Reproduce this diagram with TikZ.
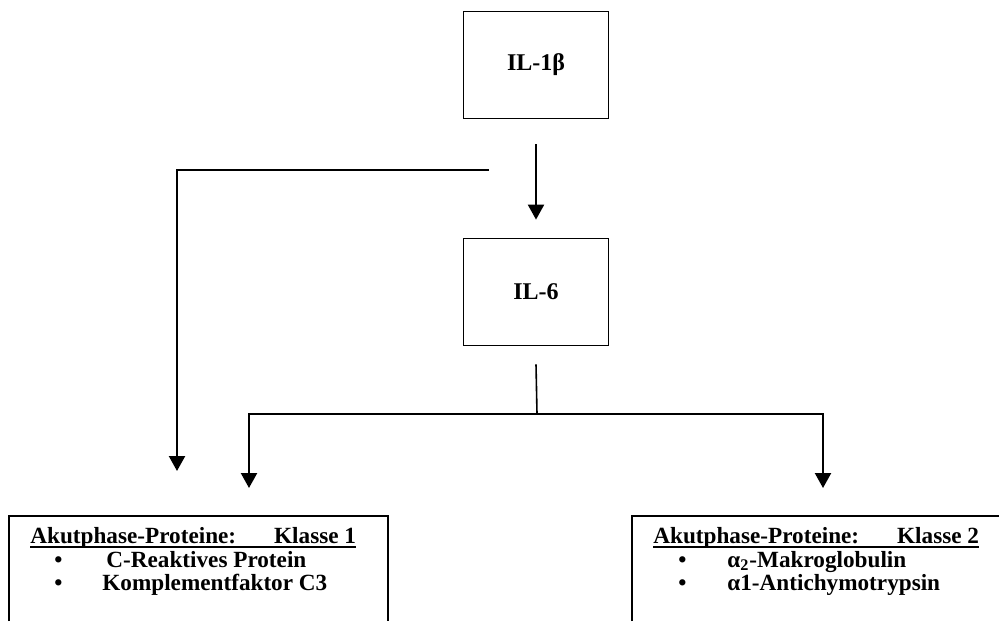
\documentclass[tikz,border=0pt]{standalone}
\usepackage{fontspec}
\setmainfont{Liberation Serif}
\usetikzlibrary{arrows.meta,positioning}
\tikzset{
  frame/.style={draw=black, line width=0.9pt},
  il-box/.style={
    frame,
    minimum width=72.5pt,
    minimum height=53.5pt,
    inner sep=0pt,
    font=\fontsize{12}{14}\selectfont\bfseries
  },
  link/.style={line width=0.8pt},
  link-arrow/.style={line width=1.1pt, -{Triangle[width=8pt,length=7.5pt]}},
  class-text/.style={inner sep=0pt, anchor=base west, font=\fontsize{11.6}{14}\selectfont\bfseries},
  under-line/.style={line width=1pt}
}

\begin{document}
\begin{tikzpicture}[x=0.5pt,y=-0.5pt]
  \useasboundingbox (0,0) rectangle (999,621);
  % Zytokine
  \node[il-box] (il1b) at (536,65) {IL-1β};
  \node[il-box] (il6) at (536,292) {IL-6};
  \draw[link-arrow] ([yshift=-12.5pt]il1b.south) -- ([yshift=9pt]il6.north);
  % Seitenast zu Klasse 1
  \coordinate (branch) at (489,170);
  \coordinate (tipA) at (177,471);
  \draw[link-arrow] (branch) -| (tipA);
  % Verzweigung unter IL-6
  \coordinate (split) at (537,414);
  \coordinate (tipB) at (249,488);
  \coordinate (tipC) at (823,488);
  \draw[link] ([yshift=-9pt]il6.south) -- (split);
  \draw[link-arrow] (split) -| (tipB);
  \draw[link-arrow] (split) -| (tipC);
  % Akutphase-Proteine, Klasse 1
  \draw[frame] (9,621) -- (9,516) -- (388,516) -- (388,621);
  \node[class-text] (head1) at (30,543) {Akutphase-Proteine:\hspace{19pt}Klasse 1};
  \draw[under-line] ([yshift=-2pt]head1.base west) -- ([yshift=-2pt]head1.base east);
  \node[class-text] (dot1a) at (54,567) {\textbullet};
  \node[class-text] (item1a) at (106,567) {C-Reaktives Protein};
  \node[class-text] (dot1b) at (54,590) {\textbullet};
  \node[class-text] (item1b) at (102,590) {Komplementfaktor C3};
  % Akutphase-Proteine, Klasse 2
  \draw[frame] (632,621) -- (632,516) -- (999,516);
  \node[class-text] (head2) at (653,543) {Akutphase-Proteine:\hspace{19pt}Klasse 2};
  \draw[under-line] ([yshift=-2pt]head2.base west) -- ([yshift=-2pt]head2.base east);
  \node[class-text] (dot2a) at (678,567) {\textbullet};
  \node[class-text] (item2a) at (727,567) {α\textsubscript{2}-Makroglobulin};
  \node[class-text] (dot2b) at (678,590) {\textbullet};
  \node[class-text] (item2b) at (727,590) {α1-Antichymotrypsin};
\end{tikzpicture}
\end{document}
